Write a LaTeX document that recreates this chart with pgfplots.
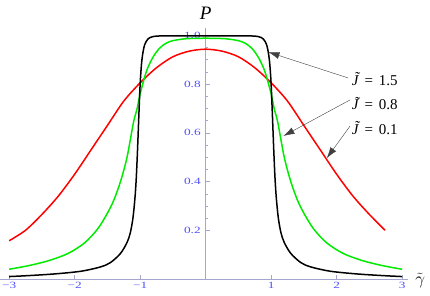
\documentclass[border=0pt]{standalone}
\usepackage{pgfplots}
\pgfplotsset{compat=1.18}
\usetikzlibrary{arrows.meta}
\usepackage{fontspec}
\setmainfont{Liberation Serif}
\definecolor{tickblue}{RGB}{80,80,255}
\definecolor{axgray}{RGB}{165,165,205}
\definecolor{mgreen}{RGB}{0,235,0}
\begin{document}
\begin{tikzpicture}
\begin{axis}[
  scale only axis, width=408pt, height=251pt,
  xmin=-3.14, xmax=3.09, ymin=0, ymax=1.03,
  axis x line=middle, axis y line=middle,
  axis line style={axgray,-},
  clip=false,
  xtick={-3,-2,-1,1,2,3}, xticklabels={−3,−2,−1,1,2,3},
  minor x tick num=4,
  ytick={0.2,0.4,0.6,0.8,1.0}, yticklabels={0.2,0.4,0.6,0.8,1.0},
  minor y tick num=3,
  tick style={axgray,thin},
  tick align=inside,
  major tick length=4pt, minor tick length=2.5pt,
  tick label style={font=\fontsize{9.5}{10}\selectfont, text=tickblue, xscale=1.4},
  every axis plot/.append style={line width=1.5pt, smooth, no markers},
]
\addplot[red] coordinates {
(-3,0.157)(-2.75,0.20)(-2.5,0.265)(-2.25,0.34)(-2,0.43)(-1.75,0.53)(-1.5,0.63)(-1.25,0.73)(-1,0.805)(-0.75,0.867)(-0.5,0.912)(-0.25,0.935)(0,0.943)
(0.25,0.935)(0.5,0.912)(0.75,0.867)(1,0.805)(1.25,0.73)(1.5,0.63)(1.75,0.53)(2,0.43)(2.25,0.34)(2.5,0.265)(2.74,0.20)
};
\addplot[mgreen] coordinates {
(-3,0.040)(-2.7,0.055)(-2.4,0.075)(-2.1,0.105)(-1.85,0.148)(-1.65,0.205)(-1.5,0.27)(-1.4,0.325)(-1.3,0.40)(-1.2,0.50)(-1.1,0.645)(-1.05,0.695)(-1,0.76)(-0.9,0.855)(-0.8,0.912)(-0.7,0.948)(-0.6,0.968)(-0.5,0.978)(-0.3,0.986)(0,0.988)
(0.3,0.986)(0.5,0.978)(0.6,0.968)(0.7,0.948)(0.8,0.912)(0.9,0.855)(1,0.76)(1.05,0.695)(1.1,0.645)(1.2,0.50)(1.3,0.40)(1.4,0.325)(1.5,0.27)(1.65,0.205)(1.85,0.148)(2.1,0.105)(2.4,0.075)(2.7,0.055)(3,0.040)
};
\addplot[black] coordinates {
(-3,0.010)(-2.7,0.014)(-2.3,0.021)(-1.9,0.032)(-1.6,0.05)(-1.45,0.068)(-1.3,0.105)(-1.2,0.15)(-1.15,0.19)(-1.11,0.25)(-1.08,0.33)(-1.06,0.41)(-1.04,0.53)(-1.02,0.67)(-1,0.80)(-0.98,0.88)(-0.96,0.925)(-0.93,0.962)(-0.88,0.985)(-0.8,0.995)(-0.6,0.998)(0,0.998)
(0.6,0.998)(0.8,0.995)(0.88,0.985)(0.93,0.962)(0.96,0.925)(0.98,0.88)(1,0.80)(1.02,0.67)(1.04,0.53)(1.06,0.41)(1.08,0.33)(1.11,0.25)(1.15,0.19)(1.2,0.15)(1.3,0.105)(1.45,0.068)(1.6,0.05)(1.9,0.032)(2.3,0.021)(2.7,0.014)(3,0.010)
};
\draw[-{Latex[length=11pt,width=7pt]}, thin, black!75] (axis cs:2.176,0.825) -- (axis cs:0.959,0.931);
\draw[-{Latex[length=11pt,width=7pt]}, thin, black!75] (axis cs:2.206,0.735) -- (axis cs:1.188,0.587);
\draw[-{Latex[length=11pt,width=7pt]}, thin, black!75] (axis cs:2.206,0.628) -- (axis cs:1.85,0.496);
\node[anchor=west, font=\fontsize{15}{15}\selectfont, inner sep=0pt] at (axis cs:2.23,0.821) {{\itshape\~{J}}\hspace{6pt}=\hspace{6pt}1.5};
\node[anchor=west, font=\fontsize{15}{15}\selectfont, inner sep=0pt] at (axis cs:2.23,0.719) {{\itshape\~{J}}\hspace{6pt}=\hspace{6pt}0.8};
\node[anchor=west, font=\fontsize{15}{15}\selectfont, inner sep=0pt] at (axis cs:2.23,0.620) {{\itshape\~{J}}\hspace{6pt}=\hspace{6pt}0.1};
\node[font=\fontsize{19}{19}\selectfont\itshape, inner sep=0pt] at (axis cs:0,1.092) {P};
\node[font=\fontsize{19}{19}\selectfont, inner sep=0pt] at (axis cs:3.275,-0.008) {$\tilde{\gamma}$};
\end{axis}
\pgfresetboundingbox
\path[use as bounding box] ([yshift=-16pt]current axis.south west) rectangle ++(430pt,295pt);
\end{tikzpicture}
\end{document}
